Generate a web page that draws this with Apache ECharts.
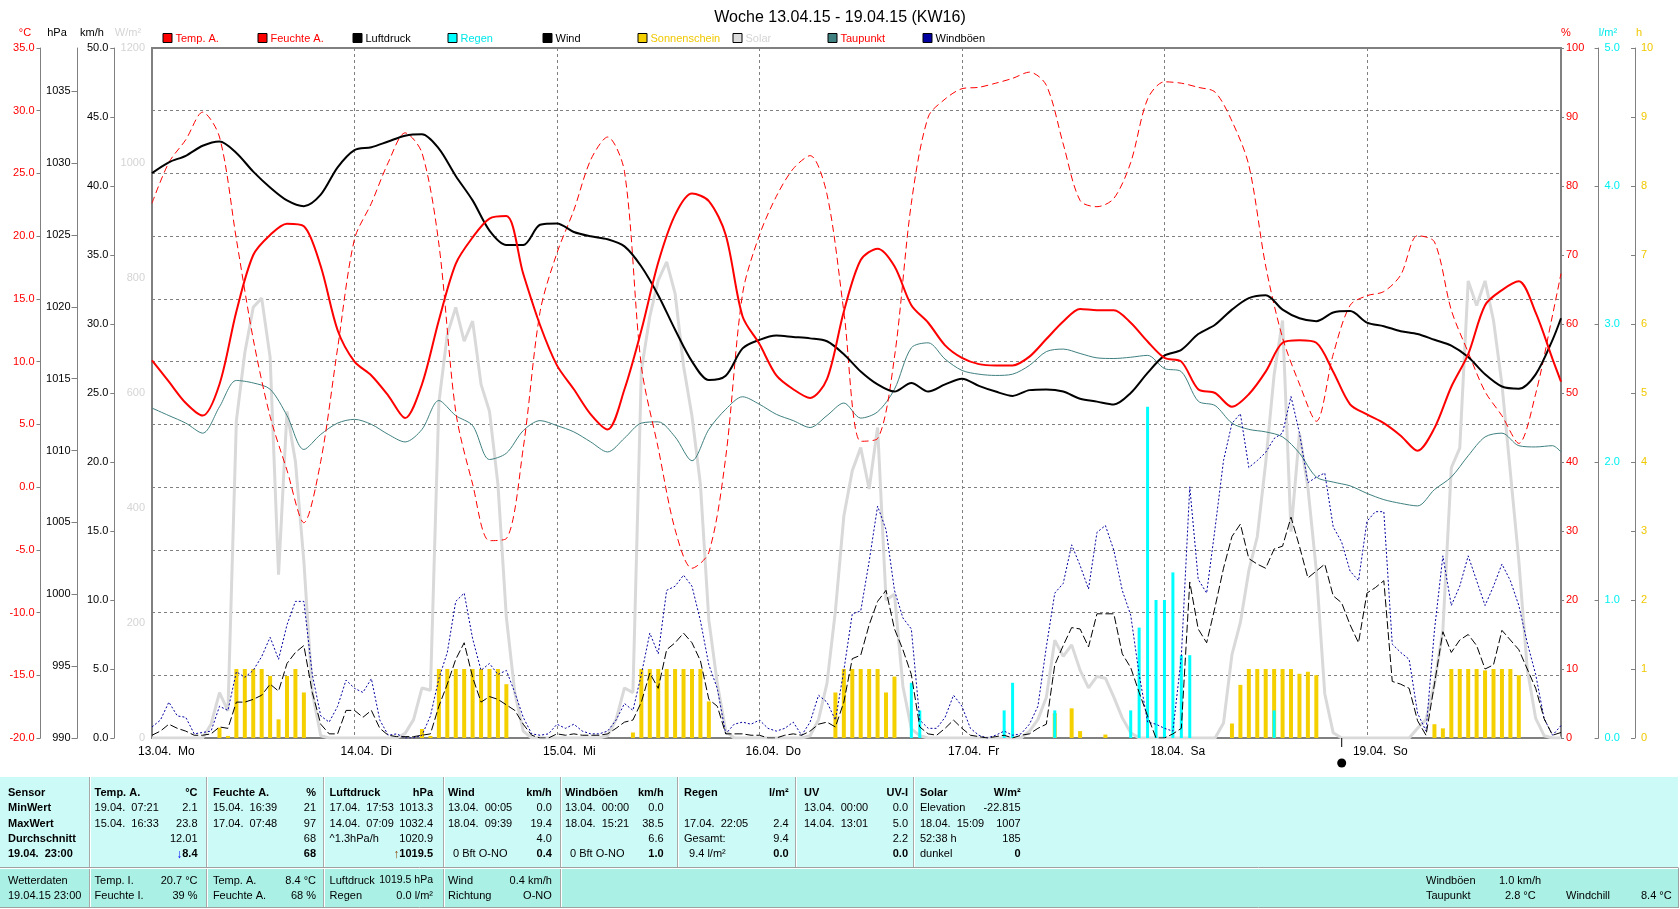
<!DOCTYPE html>
<html><head><meta charset="utf-8">
<script src="https://cdn.jsdelivr.net/npm/echarts@6/dist/echarts.min.js"></script>
<style>html,body{margin:0;padding:0;background:#fff}#c{width:1680px;height:909px}</style>
</head><body><div id="c"></div>
<script>
// ---------------- DATA ----------------
const dayLabels = ['13.04.  Mo','14.04.  Di','15.04.  Mi','16.04.  Do','17.04.  Fr','18.04.  Sa','19.04.  So'];
const newMoonHour = 140.95;
// 2-hourly values (hours 0,2,...,166) + last value at hour 167
const tempA = [10.1,8.4,6.7,5.7,8.2,14.0,18.5,20.1,21.0,20.8,17.6,12.5,
 10.0,8.9,7.3,5.5,8.2,13.3,17.8,19.9,21.4,21.6,17.0,12.9,
 9.7,7.8,5.8,4.6,7.8,12.5,17.9,21.7,23.4,22.8,20.1,13.6,
 11.4,8.9,7.8,7.1,8.6,14.0,18.1,19.0,17.6,14.5,13.1,11.3,
 10.3,9.8,9.7,9.7,10.4,11.8,13.2,14.2,14.1,14.1,13.1,11.6,
 10.3,10.0,7.8,7.5,6.4,7.4,9.2,11.5,11.7,11.5,9.2,6.6,
 5.8,5.1,4.1,2.9,4.7,8.0,10.6,14.5,15.7,16.4,13.9,10.2,
 8.4];
const humA = [77.5,83.4,86.7,90.7,87.1,72.3,57.8,46.6,38.8,31.2,40.1,56.5,
 72.3,77.5,83.4,87.7,84.8,71.6,47.3,36.8,28.6,28.9,42.0,61.8,
 70.3,76.5,83.8,87.1,82.1,53.9,42.0,30.2,24.6,26.9,40.7,64.4,
 72.9,78.5,82.5,84.4,78.8,61.8,43.0,43.4,55.2,77.5,90.0,92.6,
 94.1,94.3,94.9,95.6,96.5,94.6,86.1,77.9,77.0,78.2,83.4,92.6,
 95.1,94.9,94.3,93.6,89.4,83.0,68.4,58.0,51.3,45.9,55.6,62.7,
 64.1,64.7,67.1,72.8,71.9,62.0,55.9,50.2,46.7,42.7,49.9,61.3,
 67.3];
const pressure = [1029.3,1030.05,1030.5,1031.2,1031.5,1030.7,1029.4,1028.3,1027.4,1027.0,1027.8,1029.7,
 1030.9,1031.1,1031.5,1031.9,1032.0,1031.0,1029.1,1027.4,1025.3,1024.3,1024.3,1025.7,
 1025.8,1025.2,1024.9,1024.7,1024.2,1022.8,1020.8,1018.4,1016.2,1014.9,1015.2,1017.1,
 1017.7,1018.0,1017.9,1017.8,1017.6,1016.7,1015.5,1014.6,1014.1,1014.7,1014.1,1014.6,
 1015.0,1014.5,1014.1,1013.8,1014.2,1014.25,1014.1,1013.6,1013.4,1013.2,1014.0,1015.4,
 1016.6,1017.0,1018.1,1018.75,1019.8,1020.6,1020.8,1019.8,1019.2,1019.0,1019.6,1019.7,
 1018.9,1018.65,1018.3,1018.1,1017.7,1017.3,1016.5,1015.3,1014.45,1014.3,1015.3,1017.7,
 1019.2];
const dewPoint = [6.3,5.7,5.1,4.3,6.4,8.5,8.3,7.8,5.7,3.0,4.2,5.1,
 5.4,5.0,4.2,3.6,4.6,6.9,5.7,4.9,2.2,2.7,4.5,5.3,
 4.9,4.4,3.6,2.8,3.9,5.1,5.2,4.0,2.1,4.6,6.2,7.2,
 6.6,5.8,5.3,4.75,5.7,6.7,5.5,6.0,7.8,11.1,11.5,10.2,
 9.3,9.0,8.9,9.0,9.7,10.8,11.0,10.65,10.3,10.25,10.35,10.5,
 9.45,9.2,6.85,6.5,5.1,4.6,4.4,4.0,2.7,0.8,0.4,0.1,
 -0.5,-1.0,-1.3,-1.5,-0.2,0.8,2.5,4.0,4.3,3.3,3.2,3.3,
 2.8];
// hourly values (hours 0..167)
const solar = [0,0,0,0,0,0,0,24,79,47,552,670,749,765,662,284,568,481,307,79,4,0,0,0,
 0,0,0,0,0,0,8,32,87,83,583,702,749,690,725,615,568,441,210,79,12,0,0,0,
 0,0,0,0,0,0,4,32,87,79,639,733,796,828,773,647,560,441,205,95,12,0,0,0,
 0,0,0,0,0,0,4,32,95,221,386,465,505,433,540,240,250,90,16,4,0,0,0,0,
 0,0,0,0,0,0,0,0,12,32,71,170,142,162,118,87,107,104,71,35,9,0,0,0,
 0,0,0,0,0,0,0,26,145,201,291,350,479,632,726,359,530,436,291,77,9,0,0,0,
 0,0,0,0,0,0,17,32,94,188,470,504,795,752,795,726,615,462,308,120,34,4,0,0];
const wind = [0.2,0.5,1.0,0.7,0.5,0.2,0.2,0.3,0.8,0.7,2.6,2.6,2.8,3.1,3.9,3.4,5.4,6.2,6.7,3.3,1.0,0.3,0.3,2.0,
 2.0,1.5,2.0,0.7,0.2,0.1,0.1,0.1,0.2,0.3,2.3,3.9,5.7,6.9,4.4,2.6,3.0,2.8,2.4,2.0,1.0,0.2,0,0,
 0.3,0.2,0.3,0.2,0.2,0.2,0.3,0.7,1.15,1.3,2.6,4.7,3.6,6.4,6.9,7.6,6.9,5.6,2.8,2.3,0.3,0.3,0.3,0.2,
 0.2,0,0,0.2,0.3,0.2,0.5,1.0,1.15,0.8,2.6,5.75,6.0,8.2,9.9,10.7,7.9,6.4,4.6,0.8,0.3,0.2,0.7,1.3,
 0.7,0.2,0.1,0,0.1,0.2,0,0.2,0.3,0.7,1.0,5.3,6.7,8.0,7.9,6.6,9.0,9.0,9.0,6.1,5.1,3.3,1.6,0,
 0,0.3,0.7,11.3,7.9,6.9,9.5,12.3,14.6,15.5,13.0,12.6,12.3,13.7,13.9,16.0,13.9,11.6,12.1,12.6,10.3,9.8,8.2,6.9,
 10.5,10.9,11.4,4.1,3.9,3.6,1.25,0.2,3.9,7.7,6.2,7.1,7.5,6.7,5.0,5.3,7.8,7.1,6.4,5.0,3.6,1.4,0.2,0.4];
const gusts = [0.8,1.3,2.6,1.6,1.5,0.3,0.4,0.5,2.3,2.0,4.8,4.4,4.9,5.9,7.3,5.7,8.2,9.9,9.9,4.6,1.6,1.15,2.3,4.2,
 3.6,3.3,4.3,1.3,0.2,0.3,0,0,0.2,1.6,4.3,6.2,9.9,10.5,7.2,4.9,5.4,4.6,4.9,3.3,1.5,0.3,0.2,0.3,
 1.0,0.7,1.0,0.5,0.3,0.3,0.5,1.3,2.5,2.0,4.6,7.6,6.1,10.7,11.0,11.8,11.0,8.5,5.3,3.6,0.3,1.0,1.15,1.0,
 1.3,0.7,0.5,0.7,1.15,0.2,1.15,3.1,2.6,1.3,4.9,9.0,9.2,12.8,16.8,15.1,10.7,8.7,7.9,1.3,0.7,0.7,1.5,3.1,
 2.3,0.7,0.2,0,0.2,0.5,0.2,0.3,1.0,2.3,6.6,10.5,11.2,14.0,12.5,10.8,14.9,15.4,13.6,10.7,8.9,4.6,1.15,1.0,
 0.7,0.5,5.9,18.2,11.5,10.5,15.2,20.1,22.8,23.5,19.6,20.1,20.7,21.7,22.1,24.75,22.1,18.5,18.9,19.2,15.3,14.2,12.1,11.4,
 15.7,16.4,16.4,6.8,6.2,5.7,1.8,0.5,7.8,13.2,9.6,11.0,13.2,11.4,9.6,11.0,12.6,11.4,9.6,6.9,4.6,1.4,0.2,0.9];
const sunHours = [8,9,10,11,12,13,14,15,16,17,18, 32,33,34,35,36,37,38,39,40,41,42,
 57,58,59,60,61,62,63,64,65,66, 81,82,83,84,85,86,87,88, 107,109,110,113,
 128,129,130,131,132,133,134,135,136,137,138, 152,153,154,155,156,157,158,159,160,161,162];
const sunValues = [0.15,0.03,1,1,1,1,0.9,0.27,0.9,1,0.66, 0.13,0.03,1,1,1,1,1,1,1,1,0.78,
 0.08,1,1,1,1,1,1,1,1,0.53, 0.66,1,1,1,1,1,0.66,0.89, 0.36,0.43,0.1,0.05,
 0.21,0.77,1,1,1,1,1,1,0.93,0.96,0.91, 0.2,0.14,1,1,1,1,0.98,1,1,1,0.91];
const rainHours = [90,91,101,102,107,116,117,118,119,120,121,122,123,133];
const rainValues = [0.4,0.2,0.2,0.4,0.2,0.2,0.8,2.4,1.0,1.0,1.2,0.6,0.6,0.2];
// axis scales [min, max, step]
const tempScale = [-20, 35, 5];
const presScale = [990, 1038, 5];
const windScale = [0, 50, 5];
const solarScale = [0, 1200, 200];
const humScale = [0, 100, 10];
const rainScale = [0, 5, 1];
const sunScale = [0, 10, 1];
// summary table texts
const tableHead = [['Temp. A.','°C'],['Feuchte A.','%'],['Luftdruck','hPa'],['Wind','km/h'],['Windböen','km/h'],['Regen','l/m²'],['UV','UV-I'],['Solar','W/m²']];
const tableRows = [
 [['19.04.  07:21','2.1'],['15.04.  16:33','23.8'],['','12.01'],['','{d|↓}8.4']],
 [['15.04.  16:39','21'],['17.04.  07:48','97'],['','68'],['','68']],
 [['17.04.  17:53','1013.3'],['14.04.  07:09','1032.4'],['^1.3hPa/h','1020.9'],['','{u|↑}1019.5']],
 [['13.04.  00:05','0.0'],['18.04.  09:39','19.4'],['','4.0'],[' 0 Bft O-NO','0.4']],
 [['13.04.  00:00','0.0'],['18.04.  15:21','38.5'],['','6.6'],[' 0 Bft O-NO','1.0']],
 [['',''],['17.04.  22:05','2.4'],['Gesamt:','9.4'],[' 9.4 l/m²','0.0']],
 [['13.04.  00:00','0.0'],['14.04.  13:01','5.0'],['','2.2'],['','0.0']],
 [['Elevation','-22.815'],['18.04.  15:09','1007'],['52:38 h','185'],['dunkel','0']]
];
const rowNames = ['Sensor','MinWert','MaxWert','Durchschnitt','19.04.  23:00'];
const nowRows = [
 [['Temp. I.','20.7 °C'],['Feuchte I.','39 %']],
 [['Temp. A.','8.4 °C'],['Feuchte A.','68 %']],
 [['Luftdruck','1019.5 hPa'],['Regen','0.0 l/m²']],
 [['Wind','0.4 km/h'],['Richtung','O-NO']]
];

// ---------------- CHART ----------------
const FONT = '"Liberation Sans", Arial, sans-serif';
const GREY = '#808080';
const to2h = a => a.map((v,i)=>[i===a.length-1?167:i*2, v]);
const to1h = a => a.map((v,i)=>[i, v]);
const pairs = (h,v) => h.map((x,i)=>[x, v[i]]);

function yax(sc, pos, offset, color, fmt, o){
  o = o || {};
  return {
    type:'value', position:pos, offset:offset, min:sc[0], max:sc[1], interval:sc[2],
    axisLine:{show:o.line!==false, onZero:false, lineStyle:{color:GREY, width:1}},
    axisTick:{show:o.tick!==false, inside:!!o.inside, length:o.tlen||4, lineStyle:{color:GREY}, customValues:o.custom},
    axisLabel:{color:color, fontSize:11, fontFamily:FONT, margin:o.margin, formatter:fmt, customValues:o.custom},
    splitLine:{show:!!o.split, lineStyle:{color:GREY, type:[3,3], width:1}}
  };
}
const presTicks = []; for (let v=presScale[0]; v<=1035; v+=presScale[2]) presTicks.push(v);

const chart = echarts.init(document.getElementById('c'), null, {renderer:'canvas'});
const option = {
  animation:false,
  backgroundColor:'#ffffff',
  title:{text:'Woche 13.04.15 - 19.04.15 (KW16)', left:'center', top:5,
    textStyle:{fontSize:16, fontWeight:'normal', color:'#000', fontFamily:FONT}},
  grid:{left:152, right:119, top:48, bottom:171, show:true, borderColor:GREY, borderWidth:2, backgroundColor:'transparent'},
  xAxis:[
    {type:'value', min:0, max:167, interval:24, axisLine:{show:false, onZero:false}, axisTick:{show:false}, axisLabel:{show:false},
     splitLine:{show:true, lineStyle:{color:GREY, type:[3,3], width:1}}},
    {type:'value', min:0, max:167, interval:24, show:false, splitLine:{show:false}}
  ],
  yAxis:[
    yax(tempScale,'left',111.5,'#ff0000',v=>v.toFixed(1),{split:true, tlen:4, margin:6}),
    yax(presScale,'left',74.5,'#000000',v=>String(v),{custom:presTicks, tlen:6, margin:7}),
    yax(windScale,'left',37.7,'#000000',v=>v.toFixed(1),{tlen:4, margin:6}),
    yax(solarScale,'left',0,'#d4d4d4',v=>String(v),{line:false, tick:false, margin:7}),
    yax(humScale,'right',0,'#ff0000',v=>String(v),{tlen:3, margin:5}),
    yax(rainScale,'right',37.6,'#00f0f0',v=>v.toFixed(1),{inside:true, margin:6}),
    yax(sunScale,'right',74,'#f0c800',v=>String(v),{inside:true, margin:6})
  ],
  series:[
    {name:'Solar', type:'line', yAxisIndex:3, data:to1h(solar), symbol:'none', lineStyle:{color:'#d9d9d9', width:3}, z:1},
    {name:'Sonnenschein', type:'bar', xAxisIndex:0, yAxisIndex:6, data:pairs(sunHours,sunValues), barWidth:4, itemStyle:{color:'#f5d000'}, z:2},
    {name:'Regen', type:'bar', xAxisIndex:1, yAxisIndex:5, data:pairs(rainHours,rainValues), barWidth:3, itemStyle:{color:'#00ffff'}, z:3},
    {name:'Taupunkt', type:'line', yAxisIndex:0, data:to2h(dewPoint), symbol:'none', smooth:0.3, lineStyle:{color:'#408080', width:1}, z:4},
    {name:'Windböen', type:'line', yAxisIndex:2, data:to1h(gusts), symbol:'none', lineStyle:{color:'#0000a0', width:1, type:[2,2]}, z:5},
    {name:'Wind', type:'line', yAxisIndex:2, data:to1h(wind), symbol:'none', lineStyle:{color:'#000000', width:1, type:[8,3]}, z:6},
    {name:'Feuchte A.', type:'line', yAxisIndex:4, data:to2h(humA), symbol:'none', smooth:0.3, lineStyle:{color:'#ff0000', width:1, type:[7,4]}, z:7},
    {name:'Luftdruck', type:'line', yAxisIndex:1, data:to2h(pressure), symbol:'none', smooth:0.3, lineStyle:{color:'#000000', width:2}, z:8},
    {name:'Temp. A.', type:'line', yAxisIndex:0, data:to2h(tempA), symbol:'none', smooth:0.3, lineStyle:{color:'#ff0000', width:2}, z:9}
  ]
};
chart.setOption(option);

// ---------------- GRAPHIC (legend, units, x labels, table) ----------------
const G = [];
function txt(x, y, text, o){
  o = o || {};
  const st = {text:text, fill:o.color||'#000', font:(o.bold?'bold ':'')+(o.size||11)+'px '+FONT,
    align:o.align||'left', verticalAlign:'middle'};
  if (o.rich) st.rich = o.rich;
  G.push({type:'text', x:x, y:y, z:100, silent:true, style:st});
}
function rect(x,y,w,h,fill,stroke){
  G.push({type:'rect', z:90, silent:true, shape:{x:x,y:y,width:w,height:h}, style:{fill:fill, stroke:stroke||null, lineWidth:stroke?1:0}});
}
function line(x1,y1,x2,y2,color){
  G.push({type:'line', z:95, silent:true, shape:{x1:x1,y1:y1,x2:x2,y2:y2}, style:{stroke:color, lineWidth:1}});
}
// legend
const legendItems = [
  ['Temp. A.','#ff0000','#ff0000'],['Feuchte A.','#ff0000','#ff0000'],['Luftdruck','#000000','#000000'],
  ['Regen','#00ffff','#00e8e8'],['Wind','#000000','#000000'],['Sonnenschein','#f5d000','#f0c800'],
  ['Solar','#dcdcdc','#d4d4d4'],['Taupunkt','#408080','#ff0000'],['Windböen','#0000a0','#000000']];
legendItems.forEach((it,i)=>{
  const bx = 162.5 + 95*i;
  G.push({type:'rect', z:100, silent:true, shape:{x:bx+0.5,y:33.5,width:9,height:9}, style:{fill:it[1], stroke:'#000', lineWidth:1}});
  txt(bx+13, 38.5, it[0], {color:it[2]});
});
// units
txt(25,33,'°C',{color:'#ff0000',align:'center'});
txt(57,33,'hPa',{align:'center'});
txt(92,33,'km/h',{align:'center'});
txt(128,33,'W/m²',{color:'#d4d4d4',align:'center'});
txt(1566,33,'%',{color:'#ff0000',align:'center'});
txt(1608,33,'l/m²',{color:'#00e8e8',align:'center'});
txt(1639,33,'h',{color:'#f0c800',align:'center'});
// x labels
dayLabels.forEach((lab,d)=>{
  const px = chart.convertToPixel({xAxisIndex:0}, d*24);
  txt(px-14, 752, lab, {size:12});
});
// new moon marker
const mx = chart.convertToPixel({xAxisIndex:0}, newMoonHour);
line(mx+0.5, 738, mx+0.5, 747, '#000');
G.push({type:'circle', z:100, silent:true, shape:{cx:mx+0.5, cy:763, r:4.5}, style:{fill:'#000'}});

// table panels
rect(0,777,1678,90,'#ccfaf7');
rect(0,868.5,1678,38.5,'#aaf0e4');
line(0,867.5,1678,867.5,'#a0a0a0');
line(0,868.5,1678,868.5,'#ffffff');
line(0,907.5,1678,907.5,'#a0a0a0');
line(1678.5,867.5,1678.5,908,'#a0a0a0');
const sepX = [89,206,323,443,560,677,795,913];
sepX.forEach(x=>{ line(x+0.5,777,x+0.5,867,'#a8a8a8'); line(x+1.5,777,x+1.5,867,'#ffffff'); });
sepX.slice(0,5).forEach(x=>{ line(x+0.5,869,x+0.5,907,'#a8a8a8'); line(x+1.5,869,x+1.5,907,'#ffffff'); });
const colL = [94.6,212.9,329.6,448,565,684,804,920];
const colR = [197.5,316,433,551.8,663.6,788.6,908,1020.7];
const rowY = [792.7,808,823.5,839,854.3];
rowNames.forEach((n,i)=>txt(8,rowY[i],n,{bold:true}));
const richArrows = {d:{fill:'#0000ff', font:'bold 12px '+FONT}, u:{fill:'#8a3a00', font:'bold 12px '+FONT}};
tableHead.forEach((h,c)=>{
  txt(colL[c],rowY[0],h[0],{bold:true});
  txt(colR[c],rowY[0],h[1],{bold:true,align:'right'});
  tableRows[c].forEach((r,i)=>{
    const last = i===3;
    if (r[0]) txt(colL[c]+(r[0][0]===' '?2:0),rowY[i+1],r[0]);
    if (r[1]) txt(colR[c],rowY[i+1],r[1],{bold:last,align:'right',rich:richArrows});
  });
});
const nowY = [880.5,895.5];
txt(8,nowY[0],'Wetterdaten'); txt(8,nowY[1],'19.04.15 23:00');
nowRows.forEach((col,c)=>{
  col.forEach((r,i)=>{ txt(colL[c],nowY[i],r[0]); txt(colR[c],nowY[i],r[1],{align:'right', size:(c===2&&i===0)?10.5:11}); });
});
txt(1426,nowY[0],'Windböen'); txt(1499,nowY[0],'1.0 km/h');
txt(1426,nowY[1],'Taupunkt'); txt(1505,nowY[1],'2.8 °C');
txt(1566,nowY[1],'Windchill'); txt(1641,nowY[1],'8.4 °C');

chart.setOption({graphic:G});
</script>
</body></html>
